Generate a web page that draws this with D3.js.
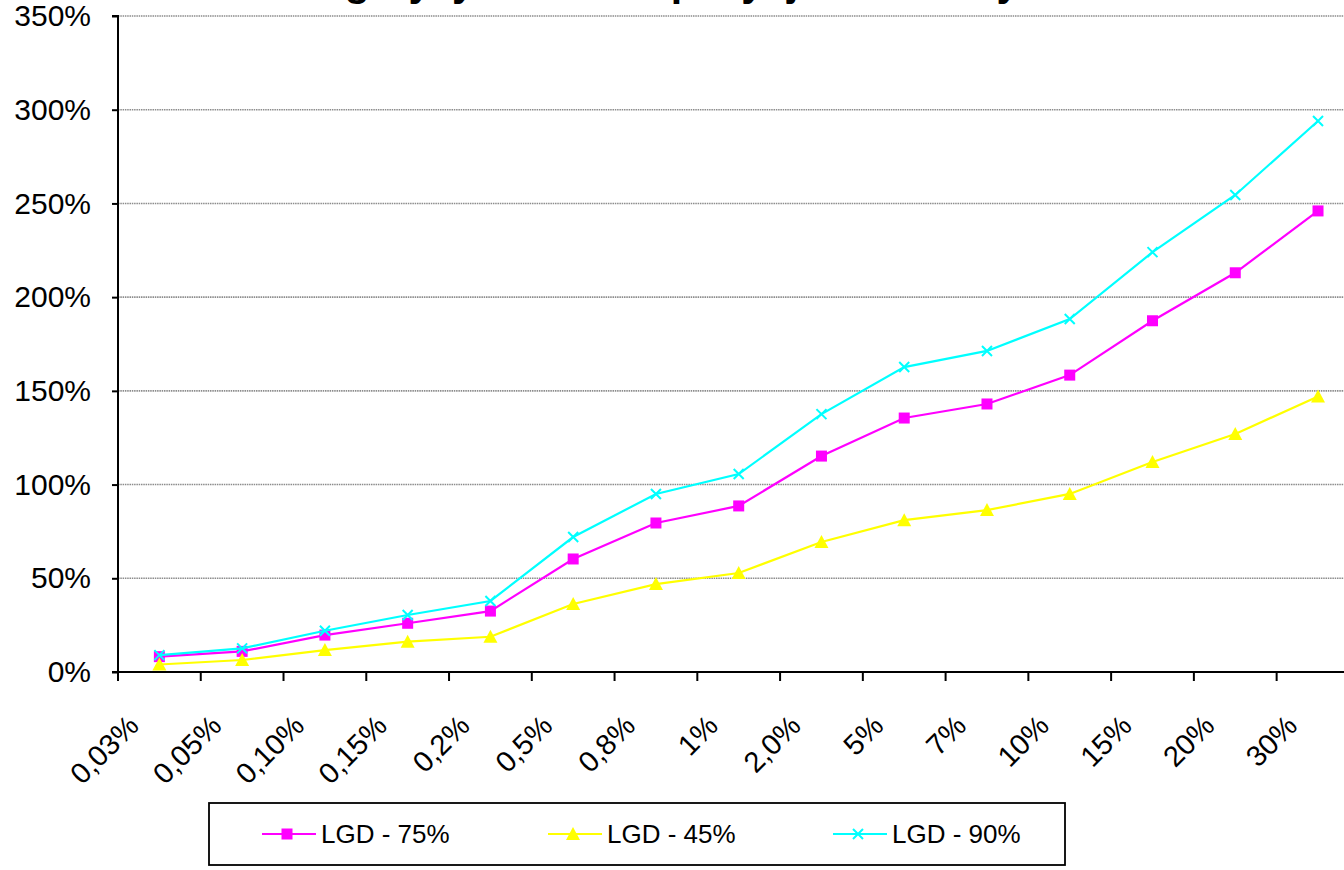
<!DOCTYPE html>
<html>
<head>
<meta charset="utf-8">
<script src="https://cdn.jsdelivr.net/npm/d3@7/dist/d3.min.js"></script>
<style>
  html, body { margin: 0; padding: 0; background: #fff; }
  svg { display: block; font-family: Arial, "Liberation Sans", sans-serif; }
</style>
</head>
<body>
<svg id="chart" width="1344" height="870"></svg>
<script>
// PD buckets (x axis categories)
const categories = ["0,03%", "0,05%", "0,10%", "0,15%", "0,2%", "0,5%", "0,8%", "1%",
                    "2,0%", "5%", "7%", "10%", "15%", "20%", "30%"];

// Risk weights in % for each LGD level
const lgd75 = [8.2, 11, 19.7, 26, 32.5, 60.3, 79.5, 88.6, 115.2, 135.5, 143, 158.4, 187.4, 213, 246];
const lgd45 = [4, 6.4, 11.7, 16.2, 18.8, 36.3, 46.9, 52.8, 69.4, 81, 86.4, 95, 112, 127, 147];
const lgd90 = [9, 12.6, 22, 30.4, 37.9, 72, 95, 105.6, 137.6, 162.7, 171.3, 188.3, 224, 254.5, 294];

const yTicks = [0, 50, 100, 150, 200, 250, 300, 350];

const seriesNames = ["LGD - 75%", "LGD - 45%", "LGD - 90%"];
const seriesColors = ["#FF00FF", "#FFFF00", "#00FFFF"];
const seriesMarkers = ["square", "triangle", "cross"];

const chartTitle = "Wagi ryzyka dla ekspozycji detalicznych";

const series = [lgd75, lgd45, lgd90].map((vals, i) => ({
  name: seriesNames[i], color: seriesColors[i], marker: seriesMarkers[i],
  values: vals.map((v, j) => ({ cat: categories[j], v }))
}));

const svg = d3.select("#chart");

const plotLeft = 118, plotBottom = 672, plotTop = 16;
const step = 82.76;

const x = d3.scaleBand().domain(categories).range([plotLeft, plotLeft + step * categories.length]).padding(0);
const y = d3.scaleLinear().domain([0, 350]).range([plotBottom, plotTop]);

// title (sits above the visible area, only its lower part shows)
svg.append("text")
  .attr("x", 676).attr("y", -4)
  .attr("text-anchor", "middle")
  .attr("font-size", 41).attr("font-weight", "bold")
  .attr("fill", "#000")
  .text(chartTitle);

// horizontal gridlines
svg.append("g").selectAll("line")
  .data(yTicks.filter(t => t > 0))
  .join("line")
  .attr("x1", plotLeft).attr("x2", 1344)
  .attr("y1", d => y(d)).attr("y2", d => y(d))
  .attr("stroke", "#8c8c8c").attr("stroke-width", 1.6)
  .attr("stroke-dasharray", "1.5,0.8");

// y axis
const yAxis = d3.axisLeft(y).tickValues(yTicks).tickSize(6).tickPadding(21)
  .tickFormat(d => d + "%");
const gy = svg.append("g").attr("transform", `translate(${plotLeft},0)`).call(yAxis);
gy.select(".domain").attr("stroke", "#000").attr("stroke-width", 2).attr("d", `M-6,${plotTop}H0V${plotBottom}`);
gy.selectAll(".tick line").attr("stroke", "#000").attr("stroke-width", 2);
gy.selectAll(".tick text").attr("font-size", 30).attr("fill", "#000")
  .attr("font-family", "Arial, 'Liberation Sans', sans-serif");

// x axis: line, ticks at band boundaries, rotated labels
const gx = svg.append("g");
gx.append("line")
  .attr("x1", plotLeft - 6).attr("x2", 1344)
  .attr("y1", plotBottom).attr("y2", plotBottom)
  .attr("stroke", "#000").attr("stroke-width", 2);
const boundaries = categories.map(c => x(c)).concat([x.range()[1]]);
gx.selectAll("line.tk").data(boundaries).join("line").attr("class", "tk")
  .attr("x1", d => d).attr("x2", d => d)
  .attr("y1", plotBottom).attr("y2", plotBottom + 9)
  .attr("stroke", "#000").attr("stroke-width", 2);
gx.selectAll("text").data(categories).join("text")
  .attr("transform", d => `translate(${x(d) + x.bandwidth() / 2 - 19},${727.5}) rotate(-45)`)
  .attr("text-anchor", "end")
  .attr("font-size", 29).attr("fill", "#000")
  .text(d => d);

// lines and markers
const line = d3.line().x(d => x(d.cat) + x.bandwidth() / 2).y(d => y(d.v));

function drawMarker(g, type, color) {
  if (type === "square") {
    g.append("rect").attr("x", -5.5).attr("y", -5.5).attr("width", 11).attr("height", 11).attr("fill", color);
  } else if (type === "triangle") {
    g.append("path").attr("d", "M0,-7L7,6L-7,6Z").attr("fill", color);
  } else {
    g.append("path").attr("d", "M-5,-5L5,5M-5,5L5,-5").attr("stroke", color).attr("stroke-width", 2).attr("fill", "none");
  }
}

series.forEach(s => {
  const g = svg.append("g");
  g.append("path").datum(s.values)
    .attr("d", line).attr("fill", "none")
    .attr("stroke", s.color).attr("stroke-width", 2.2);
  g.selectAll("g.m").data(s.values).join("g").attr("class", "m")
    .attr("transform", d => `translate(${x(d.cat) + x.bandwidth() / 2},${y(d.v)})`)
    .each(function () { drawMarker(d3.select(this), s.marker, s.color); });
});

// legend
const lg = svg.append("g");
lg.append("rect").attr("x", 209).attr("y", 803).attr("width", 856).attr("height", 62)
  .attr("fill", "#fff").attr("stroke", "#000").attr("stroke-width", 1.8);
const legendX = [262, 548, 833];
series.forEach((s, i) => {
  const item = lg.append("g").attr("transform", `translate(${legendX[i]},834)`);
  item.append("line").attr("x1", 0).attr("x2", 54).attr("y1", 0).attr("y2", 0)
    .attr("stroke", s.color).attr("stroke-width", 2.2);
  const m = item.append("g").attr("transform", "translate(25,0)");
  drawMarker(m, s.marker, s.color);
  item.append("text").attr("x", 59).attr("y", 0).attr("dy", "0.36em")
    .attr("font-size", 26).attr("fill", "#000").text(s.name);
});
</script>
</body>
</html>
